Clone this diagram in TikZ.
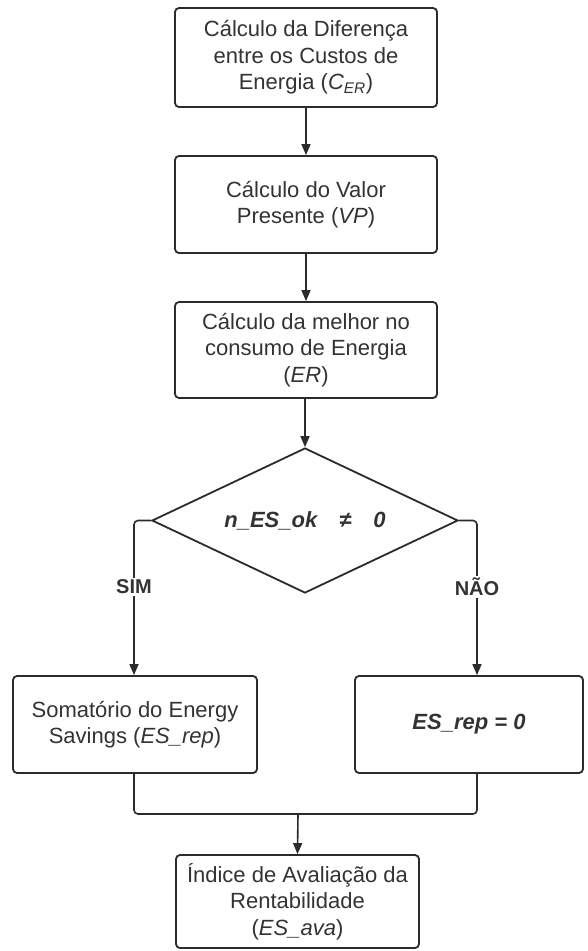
\documentclass[tikz,border=0pt]{standalone}
\usepackage{fontspec}
\setmainfont{Liberation Sans}
\usetikzlibrary{shapes.geometric,arrows.meta}
\definecolor{ln}{HTML}{2B2B2B}
\definecolor{tx}{HTML}{333333}
\begin{document}
\begin{tikzpicture}[x=1pt,y=-1pt,
  procbox/.style={draw=ln,line width=1.8pt,rounded corners=4pt,fill=white,
    align=center,inner sep=0pt,text=tx,
    font=\fontsize{22}{26.5}\selectfont},
  decbox/.style={draw=ln,line width=1.8pt,diamond,inner sep=0pt,text=tx,
    font=\fontsize{22}{26.5}\selectfont\bfseries\itshape},
  lbl/.style={fill=white,text=tx,inner sep=2pt,font=\fontsize{20}{24}\selectfont\bfseries},
  conn/.style={draw=ln,line width=1.6pt},
  arr/.style={conn,-{Triangle[length=11pt,width=9pt]}}]
\fill[white] (0,0) rectangle (588,951);
\useasboundingbox (0,0) rectangle (588,951);

\node[procbox,minimum width=262pt,minimum height=99pt] (b1) at (306,57.5)
  {Cálculo da Diferença\\entre os Custos de\\Energia ({\itshape C\textsubscript{ER}})};
\node[procbox,minimum width=262pt,minimum height=97pt] (b2) at (306,204.5)
  {Cálculo do Valor\\Presente ({\itshape VP})};
\node[procbox,minimum width=262pt,minimum height=96pt] (b3) at (306,350)
  {Cálculo da melhor no\\consumo de Energia\\({\itshape ER})};
\node[draw=ln,line width=1.8pt,text=tx,inner sep=0pt,
  font=\fontsize{22}{26.5}\selectfont\bfseries\itshape,
  shape=diamond,minimum width=306pt,minimum height=145pt,aspect=2.11] (dia) at (305,520.5)
  {};
\node[text=tx,font=\fontsize{22}{26.5}\selectfont\bfseries\itshape] (diat) at (305,520.5)
  {n\_ES\_ok\hspace{22pt}≠\hspace{22pt}0};
\node[procbox,minimum width=244pt,minimum height=97pt] (sum) at (135,724.5)
  {Somatório do Energy\\Savings ({\itshape ES\_rep})};
\node[procbox,minimum width=228pt,minimum height=97pt,
  font=\fontsize{22}{26.5}\selectfont\bfseries\itshape] (zero) at (469,724.5)
  {ES\_rep = 0};
\node[procbox,minimum width=243pt,minimum height=93pt] (ava) at (297.5,901.5)
  {Índice de Avaliação da\\Rentabilidade\\({\itshape ES\_ava})};

\coordinate (L) at (134,520.5);
\coordinate (R) at (477,520.5);
\coordinate (m) at (298,814);

\draw[arr] (b1) -- (b2);
\draw[arr] (b2) -- (b3);
\draw[arr] (b3.south -| dia.north) -- (dia.north);
\draw[arr,rounded corners=4pt] (dia.west) -- (L) -- (L |- sum.north);
\draw[arr,rounded corners=4pt] (dia.east) -- (R) -- (R |- zero.north);
\node[lbl] (sim) at (134,587) {SIM};
\node[lbl] (nao) at (477,587) {NÃO};
\draw[conn,rounded corners=4pt] (L |- sum.south) |- (m) -| (R |- zero.south);
\draw[arr] (m) -- (ava.north);
\end{tikzpicture}
\end{document}
